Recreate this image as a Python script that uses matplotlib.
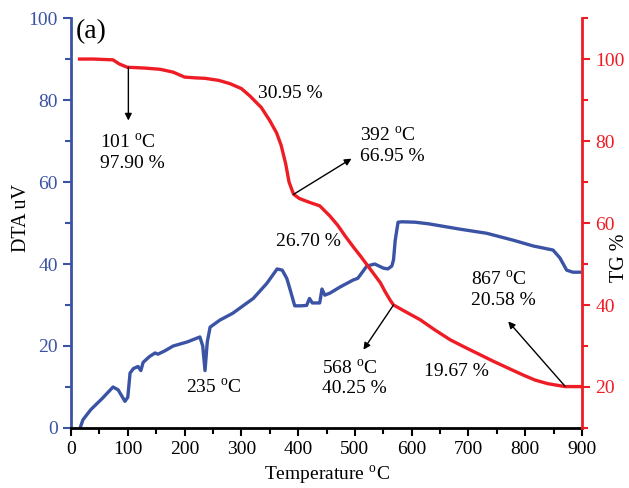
import matplotlib
matplotlib.use("Agg")
import matplotlib.pyplot as plt
from matplotlib.ticker import MultipleLocator

plt.rcParams["font.family"] = "Liberation Serif"
plt.rcParams["mathtext.fontset"] = "custom"
plt.rcParams["mathtext.rm"] = "Liberation Serif"

BLUE = "#3a53a4"
RED = "#ee1c24"

# TG curve (temperature in C, mass %)
tg_temp = [15, 40, 74, 85, 99, 130, 157, 180, 200, 220, 236, 260, 280, 300, 315,
           335, 350, 362, 370, 378, 384, 392, 402, 413, 425, 438, 456, 470, 483,
           497, 510, 530, 545, 553, 562, 568, 590, 615, 640, 668, 695, 720, 745,
           773, 795, 817, 840, 870, 900]
tg_mass = [100, 100, 99.8, 98.8, 98.0, 97.8, 97.5, 96.8, 95.6, 95.4, 95.3, 94.8,
           94.0, 92.8, 91.0, 88.2, 85.0, 82.0, 79.0, 74.5, 70.0, 67.0, 66.0, 65.4,
           64.8, 64.2, 61.7, 59.4, 56.8, 54.2, 51.9, 48.2, 45.4, 43.3, 41.2, 40.0,
           38.3, 36.4, 34.0, 31.5, 29.6, 27.9, 26.2, 24.4, 23.0, 21.7, 20.8, 20.1,
           20.1]

# DTA curve (temperature in C, uV)
dta_temp = [16, 21, 35, 55, 74, 83, 95, 100, 104, 110, 118, 123, 127, 138, 148,
            153, 165, 180, 205, 227, 232, 236, 240, 245, 262, 285, 321, 345, 363,
            372, 380, 386, 394, 405, 415, 420, 425, 438, 442, 447, 456, 474, 497,
            505, 512, 521, 535, 550, 558, 565, 568, 571, 576, 583, 606, 630, 685,
            732, 779, 814, 835, 849, 861, 873, 884, 896]
dta_val = [0, 2, 4.5, 7.2, 10, 9.3, 6.5, 7.5, 13.4, 14.5, 15, 14, 16, 17.4, 18.3,
           18, 18.8, 20, 21, 22.2, 20, 14, 21, 24.6, 26.3, 28, 31.6, 35.3, 38.8,
           38.5, 36.5, 33.7, 29.8, 29.8, 29.9, 31.6, 30.5, 30.5, 33.9, 32.4, 32.9,
           34.4, 36.1, 36.5, 37.8, 39.5, 40, 39, 38.8, 39.5, 41, 45.8, 50.2, 50.3,
           50.2, 49.8, 48.5, 47.5, 45.8, 44.4, 43.8, 43.4, 41.5, 38.5, 38, 38]

fig = plt.figure(figsize=(6.29, 4.88), dpi=100, facecolor="white")
ax = fig.add_axes([0.1129, 0.123, 0.8124, 0.840])
ax2 = ax.twinx()

ax.plot(dta_temp, dta_val, color=BLUE, lw=2.4)
ax2.plot(tg_temp, tg_mass, color=RED, lw=2.4)

ax.set_xlim(0, 900)
ax.set_ylim(0, 100)
ax2.set_ylim(10, 110)

ax.xaxis.set_major_locator(MultipleLocator(100))
ax.xaxis.set_minor_locator(MultipleLocator(50))
ax.yaxis.set_major_locator(MultipleLocator(20))
ax.yaxis.set_minor_locator(MultipleLocator(10))
ax2.set_yticks([20, 40, 60, 80, 100])
ax2.set_yticks([10, 30, 50, 70, 90, 110], minor=True)

for a in (ax, ax2):
    a.spines["top"].set_visible(False)
ax.spines["right"].set_visible(False)
ax2.spines["left"].set_visible(False)
ax2.spines["bottom"].set_visible(False)
ax.spines["left"].set_color(BLUE)
ax.spines["left"].set_linewidth(2)
ax.spines["bottom"].set_linewidth(2)
ax2.spines["right"].set_color(RED)
ax2.spines["right"].set_linewidth(2)

ax.tick_params(axis="x", which="major", length=6, width=1.5, labelsize=14)
ax.tick_params(axis="x", which="minor", length=4, width=1.5)
ax.tick_params(axis="y", which="major", colors=BLUE, length=6, width=1.5,
               labelsize=14)
ax.tick_params(axis="y", which="minor", colors=BLUE, length=4, width=1.5)
ax2.tick_params(axis="y", which="major", colors=RED, length=6, width=1.5,
                labelsize=14)
ax2.tick_params(axis="y", which="minor", colors=RED, length=4, width=1.5)

ax.set_xlabel(r"Temperature $^{\mathrm{o}}$C", fontsize=14, labelpad=4)
fig.text(22 / 629, 1 - 218 / 488, "DTA uV", fontsize=14.5, rotation=90,
         ha="center", va="center")
fig.text(620 / 629, 1 - 258 / 488, "TG %", fontsize=14.5, rotation=90,
         ha="center", va="center")

ax2.text(9, 106.6, "(a)", fontsize=20, ha="left", va="center")

arrow = dict(arrowstyle="-|>", color="black", lw=1, mutation_scale=10,
             shrinkA=0, shrinkB=0)
ax2.annotate("", xy=(101, 85), xytext=(101, 98.0), arrowprops=arrow)
ax2.annotate("", xy=(494, 75.7), xytext=(392, 67), arrowprops=arrow)
ax2.annotate("", xy=(515, 29.1), xytext=(568, 40), arrowprops=arrow)
ax2.annotate("", xy=(770, 36), xytext=(870, 20.2), arrowprops=arrow)

fs = 14
ax2.text(51, 77.2, "101 $^{\\mathrm{o}}$C\n97.90 %", fontsize=fs, ha="left",
         va="center", linespacing=1.15)
ax2.text(329, 91.7, "30.95 %", fontsize=fs, ha="left", va="center")
ax2.text(509, 78.9, "392 $^{\\mathrm{o}}$C\n66.95 %", fontsize=fs, ha="left",
         va="center", linespacing=1.15)
ax2.text(361, 55.6, "26.70 %", fontsize=fs, ha="left", va="center")
ax2.text(202, 19.8, "235 $^{\\mathrm{o}}$C", fontsize=fs, ha="left", va="center")
ax2.text(442, 22.2, "568 $^{\\mathrm{o}}$C\n40.25 %", fontsize=fs, ha="left",
         va="center", linespacing=1.15)
ax2.text(622, 23.7, "19.67 %", fontsize=fs, ha="left", va="center")
ax2.text(704, 43.8, "867 $^{\\mathrm{o}}$C\n20.58 %", fontsize=fs, ha="left",
         va="center", linespacing=1.15)

fig.savefig("out.png", dpi=100, facecolor="white")
